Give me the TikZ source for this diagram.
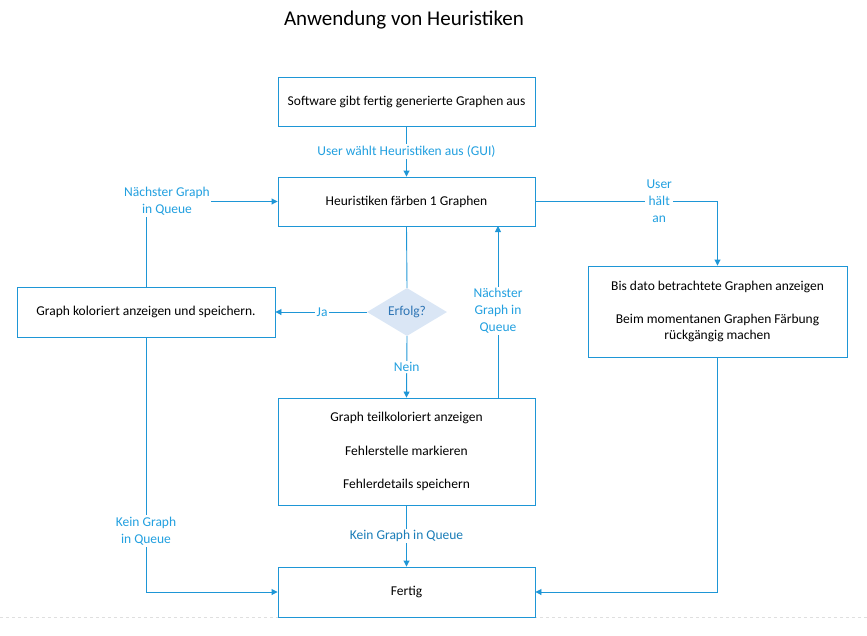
\documentclass[tikz,border=0pt]{standalone}
\usepackage{fontspec}
\setmainfont{Carlito}
\usetikzlibrary{arrows.meta,shapes.geometric,positioning}
\definecolor{lineblue}{HTML}{1E96D6}
\definecolor{lblblue}{HTML}{22A0E0}
\definecolor{lbldark}{HTML}{1A7DB8}
\definecolor{diafill}{HTML}{DAE6F5}
\definecolor{diatext}{HTML}{2E75B5}
\tikzset{
  box/.style={draw=lineblue, line width=0.9pt, fill=white, minimum width=257pt, minimum height=49pt, align=center, font=\fontsize{13.5}{16.5}\selectfont, inner sep=0pt},
  conn/.style={draw=lineblue, line width=0.9pt},
  arr/.style={conn, -{Triangle[length=6pt,width=6pt]}},
  lbl/.style={fill=white, text=lblblue, font=\fontsize{13.5}{17}\selectfont, align=center, inner sep=1.5pt},
  dec/.style={diamond, aspect=1.67, fill=diafill, draw=none, minimum width=80pt, minimum height=48pt, inner sep=0pt, text=diatext, font=\fontsize{13.5}{16}\selectfont}
}
\begin{document}
\begin{tikzpicture}[x=1pt,y=-1pt]
\useasboundingbox (0,0) rectangle (867,635);
\draw[gray!25, dashed, line width=0.8pt] (0,617.5) -- (867,617.5);
\node[font=\fontsize{21}{24}\selectfont] (title) at (404,20) {Anwendung von Heuristiken};
\node[box] (soft) at (406.5,102) {Software gibt fertig generierte Graphen aus};
\node[box] (heur) at (406.5,201.5) {Heuristiken färben 1 Graphen};
\node[box, minimum width=258pt, minimum height=50pt] (kol) at (146,312) {Graph koloriert anzeigen und speichern.};
\node[dec] (erf) at (407,312) {Erfolg?};
\node[box, minimum height=107pt] (teil) at (406.5,451.5) {Graph teilkoloriert anzeigen\\[17pt]Fehlerstelle markieren\\[17pt]Fehlerdetails speichern};
\node[box, minimum width=259pt, minimum height=91pt] (bis) at (717.5,311.5) {Bis dato betrachtete Graphen anzeigen\\[16.5pt]Beim momentanen Graphen Färbung\\rückgängig machen};
\node[box, minimum height=50pt] (fert) at (406.5,592) {Fertig};

\draw[arr] (soft.south) -- node[lbl, pos=0.5] (l1) {User wählt Heuristiken aus (GUI)} (heur.north);
\draw[arr] (heur.east) -| node[lbl, pos=0.34] (l2) {User\\hält\\an} (bis.north);
\draw[conn] (heur.south) -- (erf.north);
\draw[arr] (erf.west) -- node[lbl, pos=0.5, xshift=1pt] (l3) {Ja} (kol.east);
\draw[arr] (erf.south) -- node[lbl, pos=0.5] (l4) {Nein} (teil.north);
\coordinate (tq) at (498,398);
\coordinate (hq) at (498,226);
\draw[arr] (tq) -- node[lbl, pos=0.505] (l5) {Nächster\\Graph in\\Queue} (hq);
\draw[arr] (kol.north) |- node[lbl, pos=0.5, xshift=21pt] (l6) {Nächster Graph\\in Queue} (heur.west);
\draw[arr] (kol.south) |- node[lbl, pos=0.38] (l7) {Kein Graph\\in Queue} (fert.west);
\draw[arr] (teil.south) -- node[lbl, pos=0.5, text=lbldark] (l8) {Kein Graph in Queue} (fert.north);
\draw[arr] (bis.south) |- (fert.east);
\end{tikzpicture}
\end{document}
